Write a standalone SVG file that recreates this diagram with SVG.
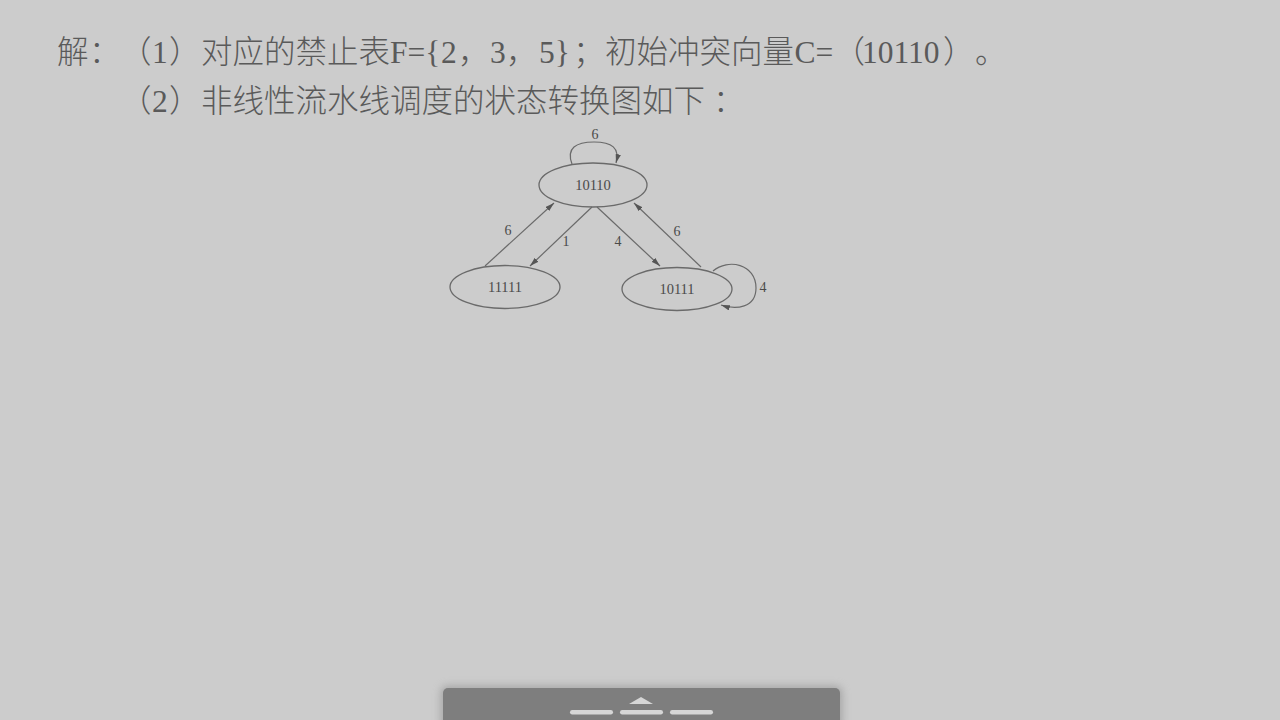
<svg xmlns="http://www.w3.org/2000/svg" width="1280" height="720" viewBox="0 0 1280 720">
<defs>
<style>
.t{font-family:"Liberation Serif","Noto Sans CJK SC",serif;font-size:31.5px;fill:#5a5a5a;font-weight:300;text-spacing-trim:space-all}
.n{fill:none;stroke:#6a6a6a;stroke-width:1.3}
.nl{font-family:"Liberation Serif",serif;font-size:14.5px;fill:#4a4a4a;text-anchor:middle}
.e{fill:none;stroke:#6a6a6a;stroke-width:1.2}
.el{font-family:"Liberation Serif",serif;font-size:14px;fill:#4a4a4a;text-anchor:middle}
</style>
<marker id="ah" viewBox="0 0 10 6" refX="10" refY="3" markerWidth="9" markerHeight="5.4" markerUnits="userSpaceOnUse" orient="auto">
<path d="M0,0 L10,3 L0,6 Z" fill="#555"/>
</marker>
<filter id="sh" x="-10%" y="-50%" width="120%" height="200%">
<feGaussianBlur stdDeviation="4"/>
</filter>
</defs>
<rect width="1280" height="720" fill="#cccccc"/>
<g id="text">
<text class="t" y="63"><tspan x="57">解</tspan><tspan x="89">：</tspan><tspan x="120">（</tspan><tspan x="152">1</tspan><tspan x="169">）</tspan><tspan x="201">对应的禁止表F={</tspan><tspan x="441">2</tspan><tspan x="458">，</tspan><tspan x="490">3</tspan><tspan x="506">，</tspan><tspan x="539">5}</tspan><tspan x="573">；</tspan><tspan x="605">初始冲突向量</tspan><tspan x="794.5">C=</tspan><tspan x="833.5">（</tspan><tspan x="862">10110</tspan><tspan x="943">）</tspan><tspan x="975">。</tspan></text>
<text class="t" y="112"><tspan x="120">（</tspan><tspan x="152">2</tspan><tspan x="169">）</tspan><tspan x="201">非线性流水线调度的状态转换图如下</tspan><tspan x="713">：</tspan></text>
</g>
<g id="connectors">
<path class="e" d="M572,164 C566,148 576,142 594,142 C612,142 620,148 616,163" marker-end="url(#ah)"/>
<text class="el" x="595" y="139">6</text>
<path class="e" d="M485,266 L554,203" marker-end="url(#ah)"/>
<text class="el" x="508" y="235">6</text>
<path class="e" d="M592,207 L530,266" marker-end="url(#ah)"/>
<text class="el" x="566" y="246">1</text>
<path class="e" d="M597,207 L660,266" marker-end="url(#ah)"/>
<text class="el" x="618" y="246">4</text>
<path class="e" d="M701,267 L634,203" marker-end="url(#ah)"/>
<text class="el" x="677" y="236">6</text>
<path class="e" d="M713,271 C728,258 756,264 756,288 C756,308 736,310 721,305" marker-end="url(#ah)"/>
<text class="el" x="763" y="292">4</text>
</g>
<g id="node-10110">
<ellipse class="n" cx="593" cy="185" rx="54" ry="22"/>
<text class="nl" x="593" y="190">10110</text>
</g>
<g id="node-11111">
<ellipse class="n" cx="505" cy="287" rx="55" ry="21.5"/>
<text class="nl" x="505" y="292">11111</text>
</g>
<g id="node-10111">
<ellipse class="n" cx="677" cy="289" rx="55" ry="21.5"/>
<text class="nl" x="677" y="294">10111</text>
</g>
<g id="toolbar">
<rect x="441" y="686" width="401" height="44" rx="6" fill="#888" opacity="0.6" filter="url(#sh)"/>
<rect x="443" y="688" width="397" height="40" rx="5" fill="#7e7e7e"/>
<path d="M641,697 L653,704 L629,704 Z" fill="#d6d6d6"/>
<rect x="570" y="710" width="43" height="4.5" rx="2.2" fill="#d6d6d6"/>
<rect x="620" y="710" width="43" height="4.5" rx="2.2" fill="#d6d6d6"/>
<rect x="670" y="710" width="43" height="4.5" rx="2.2" fill="#d6d6d6"/>
</g>
</svg>
